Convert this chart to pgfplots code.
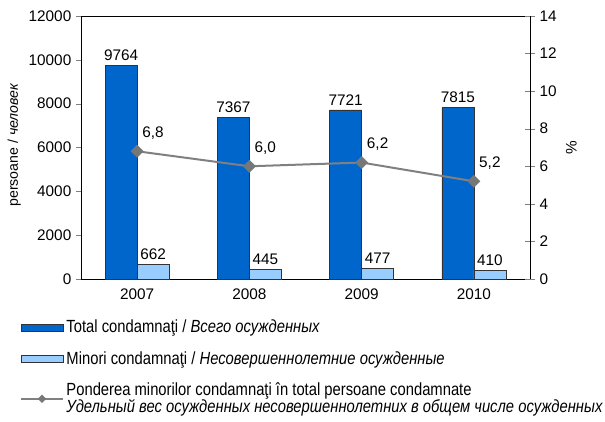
\documentclass[border=0pt]{standalone}
\usepackage{pgfplots}
\pgfplotsset{compat=1.18}
\usepackage{fontspec}
\setmainfont{Liberation Sans}
\newfontfamily\narrowfont[FakeStretch=0.84]{Liberation Sans}
\definecolor{dblue}{HTML}{0066CC}
\definecolor{lblue}{HTML}{99CCFF}
\definecolor{lgray}{HTML}{808080}
\definecolor{mgray}{HTML}{777777}
\newcommand{\tfont}{\fontsize{11.5pt}{13pt}\selectfont}
\begin{document}
\begin{tikzpicture}[font=\tfont]
\path[use as bounding box] (-60.75pt,-106.5pt) rectangle (393pt,209.25pt);
\begin{axis}[
  at={(0pt,0pt)}, anchor=south west,
  scale only axis, width=336.75pt, height=197.25pt,
  xmin=-0.5, xmax=3.5, ymin=0, ymax=12000,
  ybar=0pt, bar width=24pt,
  xtick={0,1,2,3}, xticklabels={2007,2008,2009,2010},
  xtick style={draw=none},
  extra x ticks={-0.5,0.5,1.5,2.5,3.5}, extra x tick labels={},
  extra x tick style={tick style={draw=black}, tick align=center, major tick length=7.5pt},
  xtick pos=bottom, ytick pos=left,
  ytick={0,2000,...,12000},
  tick align=outside, major tick length=3.75pt,
  tick label style={font=\tfont},
  scaled y ticks=false,
  /pgf/number format/1000 sep={},
  /pgf/number format/assume math mode=true,
  ylabel={persoane / \textit{человек}},
  ylabel style={font=\fontsize{10.6pt}{12pt}\selectfont, at={(ticklabel cs:0.51)}, yshift=-1pt},
  axis line style={black},
  nodes near coords={\tfont\pgfmathprintnumber{\pgfplotspointmeta}},
]
\addplot[fill=dblue, draw=black!80] coordinates {(0,9764) (1,7367) (2,7721) (3,7815)};
\addplot[fill=lblue, draw=black!80] coordinates {(0,662) (1,445) (2,477) (3,410)};
\end{axis}
\begin{axis}[
  at={(0pt,0pt)}, anchor=south west,
  scale only axis, width=336.75pt, height=197.25pt,
  xmin=-0.5, xmax=3.5, ymin=0, ymax=14,
  axis x line=none, axis y line*=right,
  ytick={0,2,...,14},
  tick align=center, major tick length=7.5pt,
  tick label style={font=\tfont},
  /pgf/number format/assume math mode=true,
  ylabel={\%},
  axis line style={black},
  legend style={at={(-0.136,-0.145)}, anchor=north west, draw=none, fill=none,
    inner sep=0pt, row sep=8.5pt,
    font=\narrowfont\fontsize{13.2pt}{12.75pt}\selectfont,
    cells={align=left}},
  legend cell align=left,
]
\addlegendimage{legend image code/.code={\draw[fill=dblue,draw=black!80] (0pt,-2.6pt) rectangle (31.5pt,2.6pt);}}
\addlegendimage{legend image code/.code={\draw[fill=lblue,draw=black!80] (0pt,-2.6pt) rectangle (31.5pt,2.6pt);}}
\addplot[color=lgray, line width=1.5pt, mark=square*, mark size=3.2pt,
  mark options={fill=mgray, draw=mgray, line width=0.4pt, rotate=45},
  nodes near coords={\tfont\pgfplotspointmeta}, point meta=explicit symbolic,
  nodes near coords style={anchor=south west, inner sep=0pt, xshift=3.8pt, yshift=8.5pt, text=black},
  legend image code/.code={\draw[color=lgray, line width=1.2pt, mark=square*, mark size=2pt, mark options={fill=mgray,draw=mgray,line width=0.4pt,rotate=45}, mark repeat=2, mark phase=2] plot coordinates {(0pt,0pt) (15.75pt,0pt) (31.5pt,0pt)};}
] coordinates {(0,6.8)[6,8] (1,6.0)[6,0] (2,6.2)[6,2] (3,5.2)[5,2]};
\legend{Total condamnaţi / \textit{Всего осужденных},
  Minori condamnaţi / \textit{Несовершеннолетние осужденные},
  Ponderea minorilor condamnaţi în total persoane condamnate\\\textit{Удельный вес осужденных несовершеннолетних в общем числе осужденных}}
\end{axis}
\end{tikzpicture}
\end{document}
